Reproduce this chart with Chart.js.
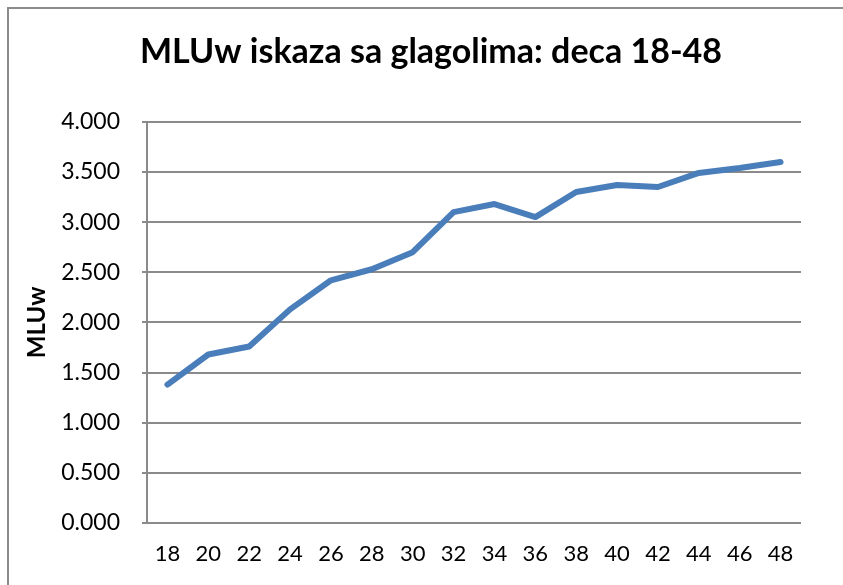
<!DOCTYPE html>
<html>
<head>
<meta charset="utf-8">
<script src="https://cdn.jsdelivr.net/npm/chart.js@4/dist/chart.umd.min.js"></script>
<style>
  html, body { margin: 0; padding: 0; background: #fff; }
  #wrap { position: relative; width: 843px; height: 585px; overflow: hidden; }
  #frame { position: absolute; left: 7px; top: 7px; width: 900px; height: 700px;
           border-left: 2px solid #8c8c8c; border-top: 2px solid #8c8c8c; }
  canvas { position: absolute; left: 0; top: 0; }
</style>
</head>
<body>
<div id="wrap">
  <div id="frame"></div>
  <canvas id="grafico" width="843" height="585"></canvas>
</div>
<script>
// ===== DADOS =====
const uzrast = ['18', '20', '22', '24', '26', '28', '30', '32', '34', '36', '38', '40', '42', '44', '46', '48'];
const mluw   = [1.38, 1.68, 1.76, 2.13, 2.42, 2.53, 2.70, 3.10, 3.18, 3.05, 3.30, 3.37, 3.35, 3.49, 3.54, 3.60];
const yTicks = [0, 0.5, 1, 1.5, 2, 2.5, 3, 3.5, 4];

const naslov   = 'MLUw iskaza sa glagolima: deca 18-48';
const yNaslov  = 'MLUw';
const fontFam  = 'Lato, "Open Sans", sans-serif';

// naslov centriran kao u originalu (malo desno od sredine platna)
const pomeriNaslov = {
  id: 'pomeriNaslov',
  afterLayout(chart) {
    chart.titleBlock.left  = 19;
    chart.titleBlock.right = 843;
  }
};

// ===== CHART =====
const ctx = document.getElementById('grafico').getContext('2d');

new Chart(ctx, {
  type: 'line',
  data: {
    labels: uzrast,
    datasets: [{
      data:        mluw,
      borderColor: '#4a7ebb',
      borderWidth: 6,
      pointRadius: 0,
      tension:     0,
      fill:        false,
      borderCapStyle: 'round',
      borderJoinStyle: 'round'
    }]
  },
  plugins: [pomeriNaslov],
  options: {
    responsive: false,
    animation: false,
    layout: { padding: { left: 0, right: 42, top: 0, bottom: 0 } },
    plugins: {
      legend:  { display: false },
      tooltip: { enabled: false },
      title: {
        display: true,
        text: naslov,
        color: '#000',
        font: { family: fontFam, size: 34, weight: 'bold' },
        padding: { top: 32, bottom: 49 }
      }
    },
    scales: {
      x: {
        offset: true,
        grid: { display: false, offset: true },
        border: { display: false },
        ticks: { color: '#000', font: { family: fontFam, size: 22 }, padding: 10, maxRotation: 0, autoSkip: false },
        afterFit: s => { s.height = 62; }
      },
      y: {
        min: 0,
        max: 4,
        afterBuildTicks: s => { s.ticks = yTicks.map(v => ({ value: v })); },
        grid: { color: '#8a8a8a', lineWidth: 2, tickLength: 5 },
        border: { display: true, color: '#8a8a8a', width: 2 },
        ticks: {
          color: '#000',
          font: { family: fontFam, size: 23 },
          padding: 22,
          callback: v => Number(v).toFixed(3)
        },
        title: {
          display: true,
          text: yNaslov,
          color: '#000',
          font: { family: fontFam, size: 24, weight: 'bold' },
          padding: { top: 23, bottom: 0 }
        },
        afterFit: s => { s.width = 147; }
      }
    }
  }
});
</script>
</body>
</html>
